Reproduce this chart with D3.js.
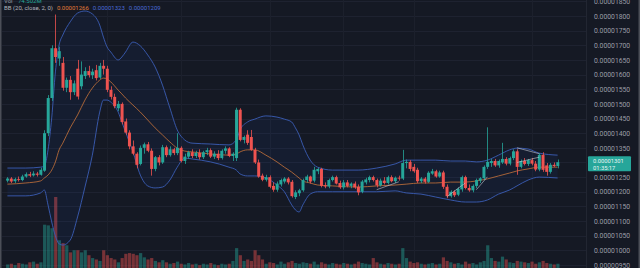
<!DOCTYPE html>
<html>
<head>
<meta charset="utf-8">
<script src="https://cdn.jsdelivr.net/npm/d3@7"></script>
<style>
html, body { margin: 0; padding: 0; background: #151924; }
svg { display: block; }
</style>
</head>
<body>
<div id="chart"></div>
<script>
// prices in units of 1e-8
const opens = [
	1238,1245,1236,1243,1240,1252,1260,1256,1262,1258,
	1272,1400,1520,1690,1655,1640,1555,1582,1540,1620,
	1560,1595,1612,1598,1615,1590,1630,1620,1548,1524,
	1485,1500,1440,1402,1355,1330,1295,1350,1362,1340,
	1278,1318,1300,1352,1325,1345,1332,1350,1305,1320,
	1335,1322,1333,1318,1335,1342,1320,1330,1315,1340,
	1348,1322,1315,1480,1377,1395,1387,1343,1300,1255,
	1241,1250,1220,1207,1225,1235,1245,1234,1182,1195,
	1205,1240,1252,1238,1270,1278,1222,1218,1240,1250,
	1230,1215,1232,1220,1228,1217,1200,1232,1240,1250,
	1240,1222,1238,1230,1250,1236,1248,1245,1298,1302,
	1285,1275,1236,1245,1234,1262,1270,1252,1266,1217,
	1185,1200,1190,1208,1250,1213,1205,1220,1238,1246,
	1285,1298,1305,1290,1300,1312,1296,1315,1338,1285,
	1305,1295,1308,1296,1276,1326,1290,1268,1292,1288
]
const highs = [
	1250,1250,1248,1252,1258,1266,1268,1270,1268,1282,
	1410,1530,1700,1805,1695,1660,1590,1595,1580,1650,
	1645,1625,1630,1620,1633,1640,1650,1630,1560,1535,
	1510,1505,1450,1410,1375,1335,1358,1368,1370,1348,
	1322,1325,1360,1358,1355,1350,1400,1355,1330,1340,
	1345,1340,1345,1340,1350,1348,1338,1342,1345,1355,
	1352,1335,1487,1485,1392,1410,1411,1350,1310,1262,
	1258,1256,1232,1235,1245,1250,1250,1240,1205,1210,
	1245,1258,1255,1285,1282,1282,1232,1245,1255,1255,
	1238,1240,1240,1232,1235,1225,1240,1248,1255,1255,
	1245,1245,1250,1255,1256,1252,1255,1343,1310,1308,
	1295,1282,1250,1250,1270,1278,1275,1272,1272,1225,
	1205,1205,1215,1255,1255,1225,1225,1245,1250,1290,
	1420,1312,1312,1310,1367,1318,1320,1345,1345,1310,
	1315,1312,1315,1305,1332,1335,1298,1298,1300,1310
]
const lows = [
	1232,1230,1230,1235,1236,1248,1250,1252,1252,1255,
	1268,1390,1510,1640,1630,1545,1540,1514,1530,1515,
	1550,1585,1590,1585,1580,1585,1600,1540,1515,1485,
	1475,1430,1395,1345,1325,1280,1290,1330,1335,1255,
	1270,1290,1295,1318,1320,1325,1325,1300,1295,1312,
	1315,1315,1310,1312,1325,1315,1312,1308,1310,1330,
	1318,1305,1305,1372,1365,1360,1340,1295,1248,1236,
	1235,1212,1200,1200,1218,1228,1225,1180,1175,1185,
	1200,1232,1228,1232,1260,1215,1212,1212,1235,1225,
	1210,1208,1215,1212,1210,1188,1195,1225,1232,1235,
	1215,1218,1225,1225,1232,1230,1238,1240,1280,1270,
	1265,1230,1230,1228,1230,1258,1248,1248,1210,1178,
	1180,1182,1185,1200,1208,1200,1198,1212,1230,1240,
	1278,1285,1285,1282,1295,1290,1290,1308,1258,1280,
	1290,1288,1290,1270,1270,1268,1255,1262,1285,1280
]
const closes = [
	1245,1235,1243,1240,1252,1260,1255,1262,1258,1275,
	1400,1520,1690,1660,1680,1555,1582,1540,1570,1525,
	1600,1612,1598,1610,1588,1630,1620,1548,1524,1492,
	1500,1438,1402,1355,1330,1292,1350,1362,1340,1278,
	1318,1300,1352,1325,1345,1332,1350,1305,1320,1335,
	1322,1333,1318,1335,1342,1320,1330,1315,1340,1348,
	1322,1330,1480,1377,1387,1367,1343,1300,1252,1241,
	1250,1217,1207,1228,1240,1245,1232,1185,1198,1205,
	1240,1252,1235,1275,1278,1220,1218,1240,1250,1228,
	1215,1232,1220,1228,1215,1198,1235,1242,1250,1240,
	1222,1238,1230,1250,1236,1248,1245,1298,1302,1278,
	1270,1236,1245,1234,1265,1270,1252,1266,1217,1185,
	1200,1188,1210,1250,1213,1205,1220,1240,1246,1285,
	1302,1305,1290,1305,1312,1296,1315,1338,1285,1305,
	1295,1308,1296,1276,1326,1275,1268,1292,1288,1301
]
const volumes = [
	5,6,4,7,6,5,8,9,6,8,
	61,60,56,100,39,35,32,22,25,25,
	22,25,18,14,12,10,25,18,14,12,
	8,14,20,21,20,18,21,15,12,14,
	10,8,11,8,6,7,9,6,5,7,
	5,6,4,6,5,7,5,4,6,5,
	6,10,28,18,10,12,10,25,18,12,
	6,8,7,5,9,6,8,10,7,6,
	8,7,6,9,5,8,6,5,7,6,
	5,7,6,5,6,9,7,6,5,14,
	8,6,5,7,6,5,6,28,14,9,
	7,8,6,5,6,7,5,6,15,10,
	8,6,7,5,9,6,7,5,8,10,
	32,14,10,9,16,12,8,7,10,9,
	8,7,9,6,8,10,7,6,5,6
]

// Bollinger band values at these candle indices
const bbIdx = [0,5,9,10,11,12,13,14,15,17,19,21,23,25,26,27,28,30,31,32,34,36,38,40,42,44,46,48,50,55,60,62,63,65,67,70,73,75,77,78,79,80,82,84,88,95,100,105,108,112,116,120,124,127,130,133,136,138,141,144,149]
const bbUpper = [1281,1281,1284,1288,1343,1452,1609,1701,1735,1780,1810,1817,1807,1769,1728,1694,1677,1650,1660,1677,1711,1698,1667,1626,1564,1486,1411,1377,1366,1363,1360,1377,1411,1438,1448,1459,1455,1448,1438,1418,1394,1360,1308,1284,1274,1274,1281,1295,1308,1308,1308,1305,1305,1302,1308,1325,1343,1349,1346,1332,1325]
const bbBasis = [1226,1230,1237,1247,1257,1274,1302,1343,1366,1418,1462,1513,1554,1581,1588,1585,1575,1547,1534,1520,1496,1472,1445,1418,1394,1370,1349,1339,1336,1329,1325,1329,1336,1343,1343,1325,1302,1284,1267,1257,1247,1237,1230,1223,1220,1216,1220,1223,1226,1230,1230,1233,1233,1237,1244,1254,1264,1271,1278,1284,1284]
const bbLower = [1186,1186,1196,1206,1155,1097,1049,1022,1018,1035,1114,1216,1325,1472,1513,1513,1506,1472,1438,1404,1336,1257,1220,1213,1216,1240,1284,1315,1312,1302,1284,1274,1261,1254,1254,1247,1223,1200,1155,1138,1131,1155,1192,1200,1200,1200,1200,1203,1196,1192,1182,1172,1165,1165,1172,1192,1206,1220,1240,1250,1247]

const priceTicks = d3.range(950, 1851, 50)
const timeGridIdx = [27, 47, 71, 91, 110, 142]

// pattern drawings: [startIdx, startPrice, endIdx, endPrice]
const drawings = [
	[100, 1207, 106, 1234],
	[119, 1183, 124, 1230],
	[127, 1207, 130, 1251],
	[138, 1350, 144, 1330],
	[138, 1300, 144, 1318]
]

const bbLegend = ["0.00001266", "0.00001323", "0.00001209"]
const lastPrice = 1301
const lastTimer = "01:35:17"

const width = 640
const height = 268
const plotRight = 586

const up = "#26a69a"
const down = "#ef5350"

const svg = d3.select("#chart").append("svg")
	.attr("width", width)
	.attr("height", height)
	.style("font-family", "Roboto, sans-serif")

svg.append("rect")
	.attr("width", width).attr("height", height)
	.attr("fill", "#151924")

const x = d3.scaleBand()
	.domain(d3.range(closes.length))
	.range([5, 560])
	.padding(0.3)

const y = d3.scaleLinear()
	.domain([950, 1800])
	.range([265, 16])

const yVol = d3.scaleLinear()
	.domain([0, 100])
	.range([268, 197])

const cx = i => x(i) + x.bandwidth() / 2
const fmt = v => (v / 1e8).toFixed(8)

svg.append("clipPath").attr("id", "plot")
	.append("rect").attr("x", 2).attr("y", 0).attr("width", plotRight - 2).attr("height", height)

const plot = svg.append("g").attr("clip-path", "url(#plot)")

// grid
plot.append("g").selectAll("line")
	.data(priceTicks)
	.join("line")
	.attr("x1", 2).attr("x2", plotRight)
	.attr("y1", d => Math.round(y(d)) + 0.5)
	.attr("y2", d => Math.round(y(d)) + 0.5)
	.attr("stroke", "#1e2230")
	.attr("stroke-width", 1)

plot.append("g").selectAll("line")
	.data(timeGridIdx)
	.join("line")
	.attr("x1", d => Math.round(cx(d)) + 0.5)
	.attr("x2", d => Math.round(cx(d)) + 0.5)
	.attr("y1", 0).attr("y2", height)
	.attr("stroke", "#1c202c")
	.attr("stroke-width", 1)

// volume
plot.append("g").selectAll("rect")
	.data(volumes)
	.join("rect")
	.attr("x", (d, i) => x(i))
	.attr("width", x.bandwidth() + 0.6)
	.attr("y", d => yVol(d))
	.attr("height", d => yVol(0) - yVol(d))
	.attr("fill", (d, i) => closes[i] >= opens[i] ? up : down)
	.attr("opacity", 0.45)

// bollinger bands
const bb = bbIdx.map((d, k) => ({ i: d, u: bbUpper[k], m: bbBasis[k], l: bbLower[k] }))

plot.append("path")
	.datum(bb)
	.attr("d", d3.area().curve(d3.curveMonotoneX)
		.x(d => cx(d.i)).y0(d => y(d.l)).y1(d => y(d.u)))
	.attr("fill", "#2962ff")
	.attr("opacity", 0.06)

const bandLine = key => d3.line().curve(d3.curveMonotoneX)
	.x(d => cx(d.i)).y(d => y(d[key]))

plot.append("path").datum(bb).attr("d", bandLine("u"))
	.attr("fill", "none").attr("stroke", "#3b5db5").attr("stroke-width", 0.9)
plot.append("path").datum(bb).attr("d", bandLine("l"))
	.attr("fill", "none").attr("stroke", "#3b5db5").attr("stroke-width", 0.9)
plot.append("path").datum(bb).attr("d", bandLine("m"))
	.attr("fill", "none").attr("stroke", "#c9743a").attr("stroke-width", 0.8)

// candles
const candles = plot.append("g").selectAll("g")
	.data(closes)
	.join("g")
	.attr("fill", (d, i) => d >= opens[i] ? up : down)
	.attr("stroke", (d, i) => d >= opens[i] ? up : down)

candles.append("line")
	.attr("x1", (d, i) => Math.round(cx(i)) + 0.5)
	.attr("x2", (d, i) => Math.round(cx(i)) + 0.5)
	.attr("y1", (d, i) => y(highs[i]))
	.attr("y2", (d, i) => y(lows[i]))
	.attr("stroke-width", 0.8)

candles.append("rect")
	.attr("x", (d, i) => x(i))
	.attr("width", x.bandwidth() + 0.4)
	.attr("y", (d, i) => y(Math.max(d, opens[i])))
	.attr("height", (d, i) => Math.max(0.8, Math.abs(y(d) - y(opens[i]))))
	.attr("stroke", "none")

// drawings
plot.append("g").selectAll("line")
	.data(drawings)
	.join("line")
	.attr("x1", d => cx(d[0])).attr("y1", d => y(d[1]))
	.attr("x2", d => cx(d[2])).attr("y2", d => y(d[3]))
	.attr("stroke", "#d1d4dc")
	.attr("stroke-width", 0.7)
	.attr("opacity", 0.8)

// price axis
svg.append("line")
	.attr("x1", plotRight + 0.5).attr("x2", plotRight + 0.5)
	.attr("y1", 0).attr("y2", height)
	.attr("stroke", "#222632")

// the last-price tag covers the tick label next to it
const axisTicks = priceTicks.filter(v => Math.abs(y(v) - y(lastPrice)) > 9)

const axis = svg.append("g")
	.attr("transform", `translate(${plotRight + 8},0)`)
	.call(d3.axisRight(y).tickValues(axisTicks).tickSize(0).tickPadding(0).tickFormat(fmt))

axis.select(".domain").remove()
axis.selectAll("text")
	.attr("fill", "#9a9ca6")
	.attr("font-size", 6.8)
	.attr("font-family", "Roboto, sans-serif")

const tag = svg.append("g").attr("transform", `translate(588,${y(lastPrice)})`)
tag.append("rect")
	.attr("x", 0).attr("y", -6).attr("width", 43).attr("height", 15)
	.attr("rx", 1)
	.attr("fill", up)
tag.append("text")
	.attr("x", 5).attr("y", 0.6)
	.attr("fill", "#e8f5f3").attr("font-size", 5.8)
	.text(fmt(lastPrice))
tag.append("text")
	.attr("x", 5).attr("y", 7.6)
	.attr("fill", "#e8f5f3").attr("font-size", 5.8)
	.text(lastTimer)

// legend
const legend = svg.append("g").attr("font-size", 6)
legend.append("text").attr("x", 4).attr("y", 3)
	.attr("fill", "#9a9ca6").text("Vol")
legend.append("text").attr("x", 18).attr("y", 3)
	.attr("fill", up).text("74.502M")

const bbLine = legend.append("text").attr("x", 4).attr("y", 9.5)
bbLine.append("tspan").attr("fill", "#b2b5be").text("BB (20, close, 2, 0)")
bbLine.append("tspan").attr("dx", 4).attr("fill", "#e07b39").text(bbLegend[0])
bbLine.append("tspan").attr("dx", 4).attr("fill", "#4a6bd8").text(bbLegend[1])
bbLine.append("tspan").attr("dx", 4).attr("fill", "#4a6bd8").text(bbLegend[2])

// frame
svg.append("rect")
	.attr("x", 0.75).attr("y", -1).attr("width", width - 1.5).attr("height", height + 2)
	.attr("fill", "none")
	.attr("stroke", "#4b4e57")
	.attr("stroke-width", 1.5)
</script>
</body>
</html>
